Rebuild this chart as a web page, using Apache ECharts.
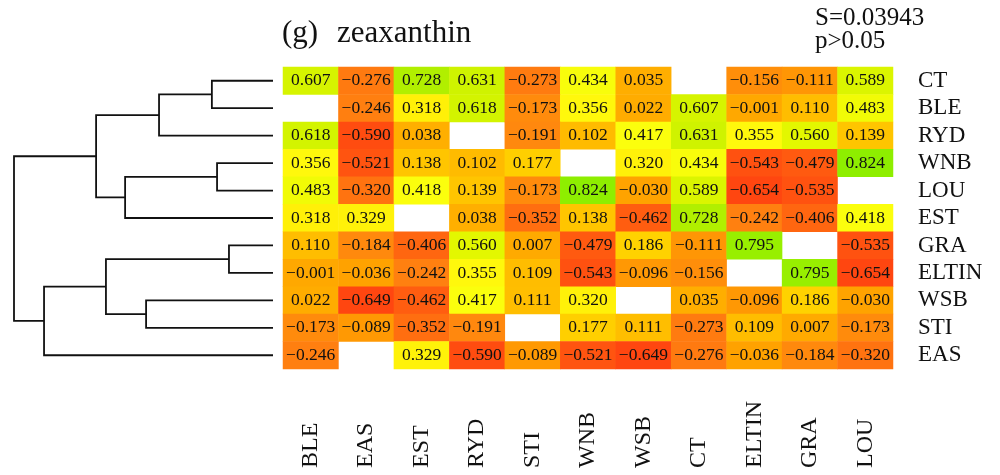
<!DOCTYPE html>
<html>
<head>
<meta charset="utf-8">
<script src="https://cdn.jsdelivr.net/npm/echarts@6/dist/echarts.min.js"></script>
<style>
html,body{margin:0;padding:0;background:#fff;}
#main{width:1000px;height:475px;}
</style>
</head>
<body>
<div id="main"></div>
<script>
// Row order (top to bottom) and column order
const rowLabels = ['CT','BLE','RYD','WNB','LOU','EST','GRA','ELTIN','WSB','STI','EAS'];
const colLabels = ['BLE','EAS','EST','RYD','STI','WNB','WSB','CT','ELTIN','GRA','LOU'];

// Correlation values per row (null = blank cell)
const rowCT    = [0.607,-0.276,0.728,0.631,-0.273,0.434,0.035,null,-0.156,-0.111,0.589];
const rowBLE   = [null,-0.246,0.318,0.618,-0.173,0.356,0.022,0.607,-0.001,0.110,0.483];
const rowRYD   = [0.618,-0.590,0.038,null,-0.191,0.102,0.417,0.631,0.355,0.560,0.139];
const rowWNB   = [0.356,-0.521,0.138,0.102,0.177,null,0.320,0.434,-0.543,-0.479,0.824];
const rowLOU   = [0.483,-0.320,0.418,0.139,-0.173,0.824,-0.030,0.589,-0.654,-0.535,null];
const rowEST   = [0.318,0.329,null,0.038,-0.352,0.138,-0.462,0.728,-0.242,-0.406,0.418];
const rowGRA   = [0.110,-0.184,-0.406,0.560,0.007,-0.479,0.186,-0.111,0.795,null,-0.535];
const rowELTIN = [-0.001,-0.036,-0.242,0.355,0.109,-0.543,-0.096,-0.156,null,0.795,-0.654];
const rowWSB   = [0.022,-0.649,-0.462,0.417,0.111,0.320,null,0.035,-0.096,0.186,-0.030];
const rowSTI   = [-0.173,-0.089,-0.352,-0.191,null,0.177,0.111,-0.273,0.109,0.007,-0.173];
const rowEAS   = [-0.246,null,0.329,-0.590,-0.089,-0.521,-0.649,-0.276,-0.036,-0.184,-0.320];

// Dendrogram merges: [childA, childB, height]; leaves 0..10, internal nodes 11+k
const mergeA = [0, 11, 3, 13, 12, 6, 8, 16, 18, 15];
const mergeB = [1, 2, 4, 5, 14, 7, 9, 17, 10, 19];
const mergeH = [0.236, 0.440, 0.216, 0.571, 0.683, 0.170, 0.490, 0.645, 0.884, 1.000];

const titleText = '(g)';
const titleName = 'zeaxanthin';
const statS = 'S=0.03943';
const statP = 'p>0.05';

// ---- build ----
const rows = [rowCT,rowBLE,rowRYD,rowWNB,rowLOU,rowEST,rowGRA,rowELTIN,rowWSB,rowSTI,rowEAS];
const heatData = [];
rows.forEach((r, ri) => r.forEach((v, ci) => { if (v !== null) heatData.push([ci, ri, v]); }));

const nodeH = [], nodeY = [];
for (let i = 0; i < rowLabels.length; i++) { nodeH.push(0); nodeY.push(i); }
const dendroData = [];
for (let k = 0; k < mergeA.length; k++) {
  const a = mergeA[k], b = mergeB[k], h = mergeH[k];
  dendroData.push([nodeH[a], nodeY[a], nodeH[b], nodeY[b], h]);
  nodeH.push(h); nodeY.push((nodeY[a] + nodeY[b]) / 2);
}

const serif = 'Liberation Serif, Times New Roman, serif';
const GT = 67, GH = 302;

const chart = echarts.init(document.getElementById('main'), null, {renderer: 'canvas'});
chart.setOption({
  backgroundColor: '#ffffff',
  animation: false,
  grid: [
    {left: 283, top: GT, width: 610, height: GH},
    {left: 14, top: GT, width: 259, height: GH}
  ],
  xAxis: [
    {type: 'category', gridIndex: 0, data: colLabels, position: 'bottom',
     axisLine: {show: false}, axisTick: {show: false}, splitLine: {show: false},
     axisLabel: {interval: 0, rotate: 90, align: 'left', verticalAlign: 'middle', margin: 99,
                 fontFamily: serif, fontSize: 24, color: '#111'}},
    {type: 'value', gridIndex: 1, min: 0, max: 1, inverse: true, show: false}
  ],
  yAxis: [
    {type: 'category', gridIndex: 0, data: rowLabels, inverse: true, position: 'right',
     axisLine: {show: false}, axisTick: {show: false}, splitLine: {show: false},
     axisLabel: {interval: 0, align: 'left', margin: 25, fontFamily: serif, fontSize: 23, color: '#111'}},
    {type: 'value', gridIndex: 1, min: -0.5, max: 10.5, inverse: true, show: false}
  ],
  visualMap: {
    type: 'continuous', show: false, seriesIndex: 0, dimension: 2,
    min: -0.66, max: 0.84,
    inRange: {color: ['#ff4510','#ff5510','#ff6d10','#ff8510','#ff9e00','#ffb800',
                      '#ffe000','#ffff10','#e8f800','#bff000','#88ee00']}
  },
  series: [
    {
      type: 'heatmap', xAxisIndex: 0, yAxisIndex: 0, data: heatData,
      label: {show: true, fontFamily: serif, fontSize: 17.5, color: '#111',
              formatter: p => p.value[2].toFixed(3).replace('-', '\u2212')},
      emphasis: {disabled: true}
    },
    {
      type: 'custom', xAxisIndex: 1, yAxisIndex: 1, data: dendroData,
      encode: {x: [0, 2, 4], y: [1, 3]},
      silent: true,
      renderItem: function (params, api) {
        const hA = api.value(0), yA = api.value(1), hB = api.value(2), yB = api.value(3), h = api.value(4);
        const p1 = api.coord([hA, yA]), p2 = api.coord([h, yA]), p3 = api.coord([h, yB]), p4 = api.coord([hB, yB]);
        return {type: 'polyline', shape: {points: [p1, p2, p3, p4]},
                style: {stroke: '#111', lineWidth: 1.8, fill: null}};
      }
    }
  ],
  graphic: [
    {type: 'text', left: 282, top: 18, style: {text: titleText, font: '31px ' + serif, fill: '#111'}},
    {type: 'text', left: 337, top: 18, style: {text: titleName, font: '31px ' + serif, fill: '#111'}},
    {type: 'text', left: 815, top: 6, style: {text: statS, font: '25px ' + serif, fill: '#111'}},
    {type: 'text', left: 815, top: 29, style: {text: statP, font: '25px ' + serif, fill: '#111'}}
  ]
});
</script>
</body>
</html>
